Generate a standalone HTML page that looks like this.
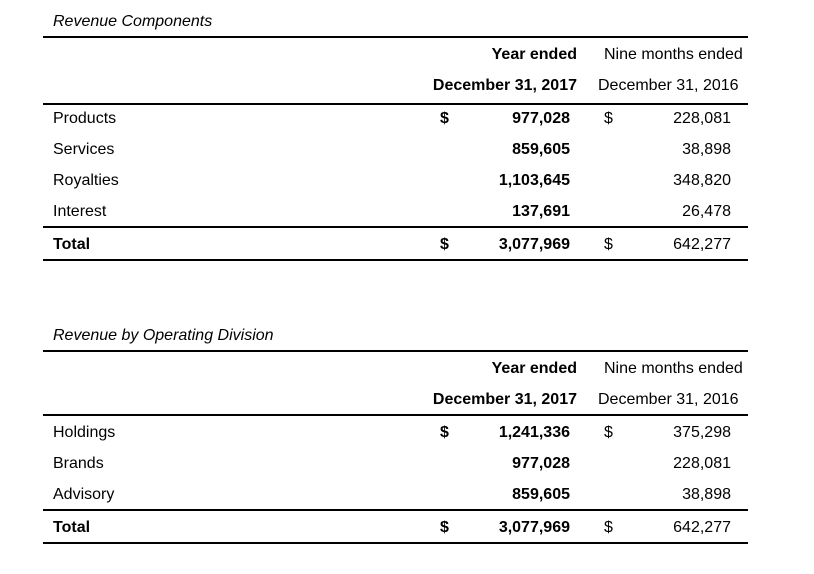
<!DOCTYPE html>
<html><head><meta charset="utf-8"><style>
body{margin:0;width:814px;height:574px;background:#fff;font-family:"Liberation Sans",Arial,sans-serif;font-size:16px;color:#000;position:relative;overflow:hidden}
.t{position:absolute;white-space:nowrap;line-height:18px;margin-top:1px}
.r{text-align:right}
.b{font-weight:bold}
.i{font-style:italic}
.hl{position:absolute;left:43px;width:705px;height:2px;background:#000}
</style></head><body>
<div>
<div class="t i" style="left:53px;top:12px">Revenue Components</div>
<div class="hl" style="top:36px"></div>
<div class="t b r" style="right:237px;top:45px">Year ended</div>
<div class="t" style="left:604px;top:45px">Nine months ended</div>
<div class="t b r" style="right:237px;top:76px">December 31, 2017</div>
<div class="t" style="left:598px;top:76px">December 31, 2016</div>
<div class="hl" style="top:103px"></div>
<div class="t" style="left:53px;top:109px">Products</div>
<div class="t b" style="left:440px;top:109px">$</div>
<div class="t b r" style="right:244px;top:109px">977,028</div>
<div class="t" style="left:604px;top:109px">$</div>
<div class="t r" style="right:83px;top:109px">228,081</div>
<div class="t" style="left:53px;top:140px">Services</div>
<div class="t b r" style="right:244px;top:140px">859,605</div>
<div class="t r" style="right:83px;top:140px">38,898</div>
<div class="t" style="left:53px;top:171px">Royalties</div>
<div class="t b r" style="right:244px;top:171px">1,103,645</div>
<div class="t r" style="right:83px;top:171px">348,820</div>
<div class="t" style="left:53px;top:202px">Interest</div>
<div class="t b r" style="right:244px;top:202px">137,691</div>
<div class="t r" style="right:83px;top:202px">26,478</div>
<div class="hl" style="top:226px"></div>
<div class="t b" style="left:53px;top:235px">Total</div>
<div class="t b" style="left:440px;top:235px">$</div>
<div class="t b r" style="right:244px;top:235px">3,077,969</div>
<div class="t" style="left:604px;top:235px">$</div>
<div class="t r" style="right:83px;top:235px">642,277</div>
<div class="hl" style="top:259px"></div>
</div>
<div>
<div class="t i" style="left:53px;top:326px">Revenue by Operating Division</div>
<div class="hl" style="top:350px"></div>
<div class="t b r" style="right:237px;top:359px">Year ended</div>
<div class="t" style="left:604px;top:359px">Nine months ended</div>
<div class="t b r" style="right:237px;top:390px">December 31, 2017</div>
<div class="t" style="left:598px;top:390px">December 31, 2016</div>
<div class="hl" style="top:414px"></div>
<div class="t" style="left:53px;top:423px">Holdings</div>
<div class="t b" style="left:440px;top:423px">$</div>
<div class="t b r" style="right:244px;top:423px">1,241,336</div>
<div class="t" style="left:604px;top:423px">$</div>
<div class="t r" style="right:83px;top:423px">375,298</div>
<div class="t" style="left:53px;top:454px">Brands</div>
<div class="t b r" style="right:244px;top:454px">977,028</div>
<div class="t r" style="right:83px;top:454px">228,081</div>
<div class="t" style="left:53px;top:485px">Advisory</div>
<div class="t b r" style="right:244px;top:485px">859,605</div>
<div class="t r" style="right:83px;top:485px">38,898</div>
<div class="hl" style="top:509px"></div>
<div class="t b" style="left:53px;top:518px">Total</div>
<div class="t b" style="left:440px;top:518px">$</div>
<div class="t b r" style="right:244px;top:518px">3,077,969</div>
<div class="t" style="left:604px;top:518px">$</div>
<div class="t r" style="right:83px;top:518px">642,277</div>
<div class="hl" style="top:542px"></div>
</div>
</body></html>
